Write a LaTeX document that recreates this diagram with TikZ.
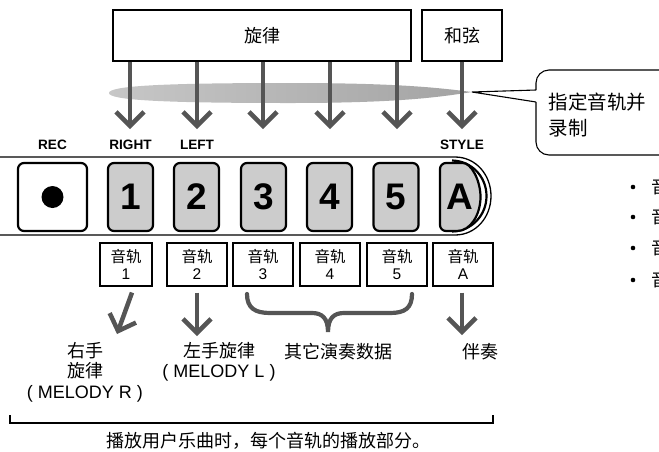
\documentclass[tikz,border=0pt]{standalone}
\usepackage{fontspec}
\usepackage{xcolor}
\setmainfont{Liberation Sans}
\newfontfamily\cjk{Noto Sans CJK SC}
\usetikzlibrary{arrows.meta}
\definecolor{arrowgray}{HTML}{555555}
\definecolor{keygray}{HTML}{CCCCCC}

\begin{document}
\begin{tikzpicture}[x=1pt, y=-1pt, line width=1pt, font=\cjk\fontsize{18}{20.5}\selectfont,
  topbox/.style={draw, line width=1.8pt, minimum height=51pt, inner sep=0pt},
  keybtn/.style={draw, line width=2.2pt, rounded corners=6pt, fill=keygray, minimum width=45pt, minimum height=68pt, inner sep=0pt, font=\rmfamily\bfseries\fontsize{37}{37}\selectfont},
  keylabel/.style={font=\rmfamily\bfseries\fontsize{13.6}{15}\selectfont},
  track/.style={draw, line width=1.1pt, minimum width=60pt, minimum height=43pt, inner sep=0pt, align=center, font=\cjk\fontsize{15.5}{17}\selectfont},
  flow/.style={draw=arrowgray, line width=4.5pt, -{Straight Barb[length=14pt, width=28pt]}},
  lbl/.style={align=center, inner sep=0pt}]
  \useasboundingbox (0,0) rectangle (659,451);
  % shadow band
  \shade[left color=black!22, right color=black!36]
    (109,93) .. controls (109,86) and (160,83) .. (290,83)
    .. controls (400,83) and (440,88) .. (472,92)
    .. controls (440,97) and (400,103) .. (290,103)
    .. controls (160,103) and (109,100) .. cycle;
  % source boxes
  \node[topbox, minimum width=298pt] (mel) at (262,35.5) {旋律};
  \node[topbox, minimum width=80pt] (chd) at (462,35.5) {和弦};
  % arrows down to the keys
  \foreach \x/\n in {130/1, 197/2, 263/3, 330/4, 397/5}{
    \coordinate (tip\n) at (\x,129);
    \draw[flow] (mel.south -| tip\n) -- (tip\n);
  }
  \coordinate (tipA) at (462,129);
  \draw[flow] (chd.south) -- (tipA);
  % callout
  \draw[line width=1.1pt, rounded corners=13pt] (536,102) -- (536,155) -- (700,155) -- (700,70) -- (536,70) -- (536,90);
  \draw[line width=1.1pt] (536,90) -- (472,92) -- (536,102);
  \node[anchor=west, align=left, inner sep=0pt, font=\cjk\fontsize{19.5}{26}\selectfont] (call) at (548,115) {指定音轨并\\录制};
  % key labels
  \node[keylabel] (lrec) at (52.5,145) {REC};
  \node[keylabel] (lright) at (130.5,145) {RIGHT};
  \node[keylabel] (lleft) at (197,145) {LEFT};
  \node[keylabel] (lstyle) at (462,145) {STYLE};
  % panel
  \draw[line width=1.3pt] (-5,157) -- (455,157) .. controls (476,157) and (491,175) .. (491,196)
    .. controls (491,217) and (476,235) .. (455,235) -- (-5,235);
  \draw[line width=2.2pt] (452,160.5) .. controls (472,161) and (486.5,177) .. (486.5,196)
    .. controls (486.5,215) and (472,231) .. (452,231.5);
  % keys
  \node[keybtn, fill=white, minimum width=69pt] (brec) at (52.5,197) {};
  \fill (brec) circle (11pt);
  \node[keybtn] (b1) at (130.5,197) {1};
  \node[keybtn] (b2) at (196.5,197) {2};
  \node[keybtn] (b3) at (263.5,197) {3};
  \node[keybtn] (b4) at (329.5,197) {4};
  \node[keybtn] (b5) at (396,197) {5};
  \draw[line width=2.2pt, fill=keygray] (457,231) [rounded corners=6pt] -- (440,231) -- (440,163) -- (457,163)
    [sharp corners] .. controls (471,163) and (480.5,180) .. (480.5,197) .. controls (480.5,214) and (471,231) .. cycle;
  \node[font=\rmfamily\bfseries\fontsize{37}{37}\selectfont] (bA) at (460,197) {A};
  % tracks
  \node[track, minimum width=52pt] (t1) at (126,264.5) {音轨\\{\rmfamily 1}};
  \node[track] (t2) at (197,264.5) {音轨\\{\rmfamily 2}};
  \node[track] (t3) at (263,264.5) {音轨\\{\rmfamily 3}};
  \node[track] (t4) at (330,264.5) {音轨\\{\rmfamily 4}};
  \node[track] (t5) at (397,264.5) {音轨\\{\rmfamily 5}};
  \node[track] (tA) at (463,264.5) {音轨\\{\rmfamily A}};
  % parts
  \coordinate (d1) at (117,334);
  \coordinate (d2) at (197,336);
  \coordinate (dA) at (462,335);
  \draw[flow] (t1.south) ++(6,6) -- (d1);
  \draw[flow] (t2.south) ++(0,6) -- (d2);
  \draw[flow] (tA.south) ++(-1,6) -- (dA);
  \draw[arrowgray, line width=4.2pt, line cap=round]
    (247,294) .. controls (247,308) and (255,313) .. (270,313) -- (312,313)
    .. controls (322,313) and (328,318) .. (328,332) .. controls (328,318) and (334,313) .. (344,313)
    -- (390,313) .. controls (405,313) and (412,308) .. (412,294);
  \node[lbl] (mr) at (85,372) {右手\\旋律\\{\rmfamily ( MELODY R )}};
  \node[lbl] (ml) at (219,362) {左手旋律\\{\rmfamily ( MELODY L )}};
  \node[lbl] (mo) at (338,352) {其它演奏数据};
  \node[lbl] (ma) at (480,352) {伴奏};
  % range
  \draw[line width=2.6pt] (10,415) -- (10,423) -- (493,423) -- (493,415);
  \node[lbl] (cap) at (268,441) {播放用户乐曲时，每个音轨的播放部分。};
  % cut-off list
  \foreach \y in {187,217,248,280}{
    \fill (633,\y) circle (2.3pt);
    \node[anchor=west, inner sep=0pt] (blt\y) at (651,\y) {音};
  }
\end{tikzpicture}
\end{document}
